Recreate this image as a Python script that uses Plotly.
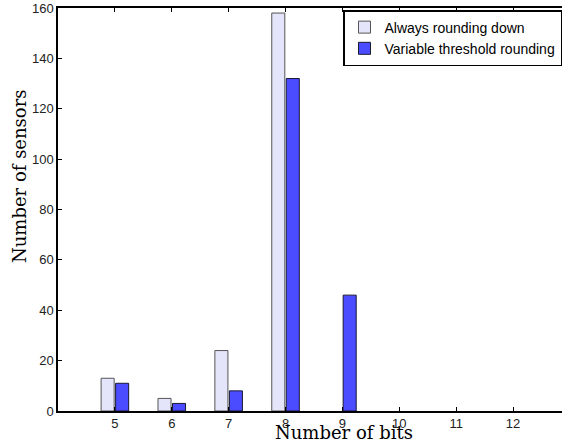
import plotly.graph_objects as go

bits = [5, 6, 7, 8, 9, 10, 11, 12]
always_down = [13, 5, 24, 158, 0, 0, 0, 0]
variable_thr = [11, 3, 8, 132, 46, 0, 0, 0]
series_names = ["Always rounding down", "Variable threshold rounding"]
y_ticks = [0, 20, 40, 60, 80, 100, 120, 140, 160]


def visible(vals):
    # zero-height bars are hidden behind the axis line in the reference
    return [v if v != 0 else None for v in vals]


fig = go.Figure()
fig.add_trace(go.Bar(x=bits, y=visible(always_down), name=series_names[0],
                     marker=dict(color="#E4E4FA", line=dict(color="#555555", width=1))))
fig.add_trace(go.Bar(x=bits, y=visible(variable_thr), name=series_names[1],
                     marker=dict(color="#4B4BFF", line=dict(color="#1a1a33", width=1))))

W, H = 562, 444
ml, mr, mt, mb = 58, 0, 8, 33
fig.update_layout(
    width=W, height=H,
    margin=dict(l=ml, r=mr, t=mt, b=mb, pad=0, autoexpand=False),
    paper_bgcolor="white", plot_bgcolor="white",
    barmode="group", bargap=0.49, bargroupgap=0.1,
    font=dict(family="Liberation Sans, Arial", size=13, color="black"),
    showlegend=True,
    legend=dict(x=1.0, y=0.995, xanchor="right", yanchor="top",
                bgcolor="white", bordercolor="black", borderwidth=1.5,
                font=dict(size=14, family="Liberation Sans, Arial"),
                tracegroupgap=0, itemwidth=30),
)
fig.update_xaxes(range=[4, 12.86], tickvals=bits, ticks="inside", ticklen=4,
                 tickcolor="black", showline=True, linecolor="black", linewidth=1.5,
                 mirror="ticks", showgrid=False, zeroline=False, automargin=False,
                 tickfont=dict(size=13, color="#222222"))
fig.update_yaxes(range=[0, 160], tickvals=y_ticks, ticks="inside", ticklen=4,
                 tickcolor="black", showline=True, linecolor="black", linewidth=1.5,
                 showgrid=False, zeroline=False, automargin=False,
                 tickfont=dict(size=13, color="#222222"))

fig.add_annotation(text="Number of bits", x=(344 - ml) / (W - ml - mr), y=-(432 - (H - mb)) / (H - mt - mb),
                   xref="paper", yref="paper", showarrow=False, xanchor="center", yanchor="middle",
                   font=dict(family="DejaVu Serif", size=18, color="black"))
fig.add_annotation(text="Number of sensors", x=-(ml - 19) / (W - ml - mr), y=((H - mb) - 176) / (H - mt - mb),
                   xref="paper", yref="paper", showarrow=False, xanchor="center", yanchor="middle",
                   textangle=-90, font=dict(family="DejaVu Serif", size=18, color="black"))

fig.write_html("out.html")
